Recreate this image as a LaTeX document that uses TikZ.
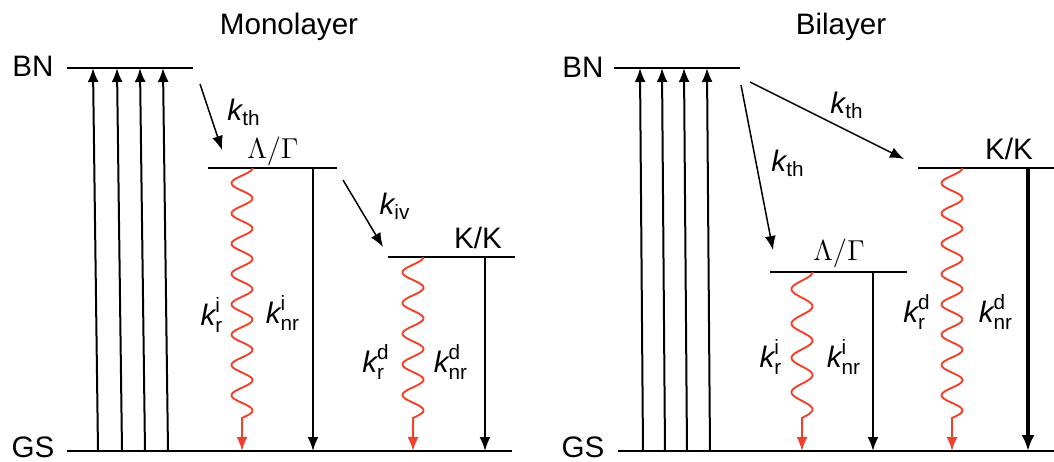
\documentclass[tikz,border=0pt]{standalone}
\usepackage{amsmath}
\usepackage{fontspec}
\setmainfont{Liberation Sans}
\usetikzlibrary{arrows.meta}

\definecolor{emitred}{RGB}{240,66,42}

\newcommand{\rate}[2]{$\textit{k}^{\text{#2}}_{\text{#1}}$}
\newcommand{\kth}{$\textit{k}_{\text{th}}$}
% wavy radiative decay: centre x, top y, bottom y, periods
\newcommand{\emission}[4]{%
  \draw[wave] plot[domain=0:#4, samples=240] ({#1+10.5*cos(360*\x)}, {#2+(#3-33-#2)*\x/#4}) -- (#1,#3);
}

\begin{document}
\begin{tikzpicture}[x=0.5pt, y=-0.5pt,
  lbl/.style={font=\fontsize{14.8}{17}\selectfont, inner sep=0pt},
  level/.style={line width=0.9pt},
  pump/.style={line width=1pt, -{Latex[length=7pt, width=5.5pt]}},
  relax/.style={line width=0.75pt, -{Latex[length=7pt, width=5.5pt]}},
  wave/.style={emitred, line width=0.95pt, -{Latex[length=7pt, width=5.5pt]}}]
  \useasboundingbox (0,0) rectangle (1054,461);

  % Monolayer
  \node[lbl] (mono) at (289,27) {Monolayer};
  \node[lbl] (mBN) at (33,66) {BN};
  \node[lbl] (mGS) at (33,447) {GS};
  \draw[level] (67,68) -- (193,68);
  \draw[level] (67,451) -- (512,451);
  \draw[level] (208,168) -- (337,168);
  \draw[level] (388,257) -- (515,257);
  \node[lbl] (mLG) at (273,151) {$\Lambda/\Gamma$};
  \node[lbl] (mKK) at (478,238) {K/K};

  \foreach \x in {93,117,140,163}
    \draw[pump] (\x+5,451) -- (\x,68);

  \draw[relax] (200,84) -- (222,150);
  \node[lbl] (mth) at (244,112) {\kth};
  \draw[relax] (343,180) -- (383,247);
  \node[lbl] (miv) at (395,206) {$\textit{k}_{\text{iv}}$};

  \emission{242}{168}{451}{8.25}
  \draw[pump] (313,168) -- (313,451);
  \node[lbl] (mri) at (212,315) {\rate{r}{i}};
  \node[lbl] (mnri) at (283,313) {\rate{nr}{i}};

  \emission{413}{257}{451}{5.25}
  \draw[pump] (485,257) -- (485,451);
  \node[lbl] (mrd) at (376,362) {\rate{r}{d}};
  \node[lbl] (mnrd) at (451,362) {\rate{nr}{d}};

  % Bilayer
  \node[lbl] (bi) at (841,27) {Bilayer};
  \node[lbl] (bBN) at (583,67) {BN};
  \node[lbl] (bGS) at (583,447) {GS};
  \draw[level] (614,68) -- (740,68);
  \draw[level] (618,451) -- (1054,451);
  \draw[level] (918,168) -- (1054,168);
  \draw[level] (770,272) -- (907,272);
  \node[lbl] (bKK) at (1009,149) {K/K};
  \node[lbl] (bLG) at (839,253) {$\Lambda/\Gamma$};

  \foreach \x in {640,662,684,707}
    \draw[pump] (\x+3,451) -- (\x,68);

  \draw[relax] (741,85) -- (773,250);
  \node[lbl] (bthl) at (788,163) {\kth};
  \draw[relax] (750,82) -- (904,159);
  \node[lbl] (bthu) at (847,105) {\kth};

  \emission{952}{168}{451}{8.25}
  \draw[line width=2pt, -{Latex[length=8pt, width=6.5pt]}] (1028,168) -- (1028,451);
  \node[lbl] (brd) at (917,312) {\rate{r}{d}};
  \node[lbl] (bnrd) at (996,312) {\rate{nr}{d}};

  \emission{802}{272}{451}{4.25}
  \draw[pump] (873,272) -- (873,451);
  \node[lbl] (bri) at (771,357) {\rate{r}{i}};
  \node[lbl] (bnri) at (844,357) {\rate{nr}{i}};
\end{tikzpicture}
\end{document}
